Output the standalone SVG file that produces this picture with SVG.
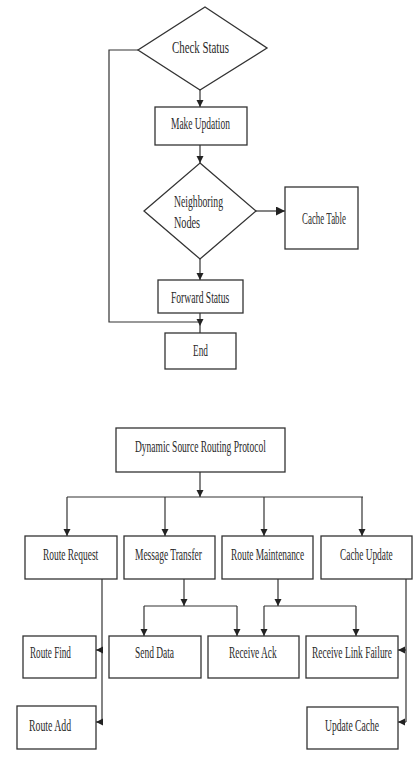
<svg xmlns="http://www.w3.org/2000/svg" width="417" height="767" viewBox="0 0 417 767">
<defs>
<marker id="ah" markerUnits="userSpaceOnUse" markerWidth="8" markerHeight="8" refX="7" refY="3.5" orient="auto"><path d="M0,0 L7,3.5 L0,7 z" fill="#222"/></marker>
<marker id="ahb" markerUnits="userSpaceOnUse" markerWidth="10" markerHeight="10" refX="9" refY="4.5" orient="auto"><path d="M0,0 L9,4.5 L0,9 z" fill="#222"/></marker>
</defs>
<style>
.n{fill:#fff;stroke:#333;stroke-width:1.3}
.t{font-family:"Liberation Serif","Times New Roman",serif;font-size:16px;fill:#2a2a2a}
.c{fill:none;stroke:#333;stroke-width:1.2}
</style>
<rect width="417" height="767" fill="#fff"/>
<g id="connectors">
<path class="c" d="M200,90 V107" marker-end="url(#ah)"/>
<path class="c" d="M200,145 V163" marker-end="url(#ah)"/>
<path class="c" d="M256,211 H285" stroke-width="2.6" marker-end="url(#ahb)"/>
<path class="c" d="M200,259 V280" marker-end="url(#ah)"/>
<path class="c" d="M200,313 V326" marker-end="url(#ah)"/>
<path class="c" d="M200,326 V333"/>
<path class="c" d="M138,50 H109 V322 H200"/>
<path class="c" d="M200,472 V497" marker-end="url(#ah)"/>
<path class="c" d="M67,497 H363"/>
<path class="c" d="M67,497 V536" marker-end="url(#ah)"/>
<path class="c" d="M165,497 V536" marker-end="url(#ah)"/>
<path class="c" d="M264,497 V536" marker-end="url(#ah)"/>
<path class="c" d="M362,497 V536" marker-end="url(#ah)"/>
<path class="c" d="M184,579 V606" marker-end="url(#ah)"/>
<path class="c" d="M144,606 H237"/>
<path class="c" d="M144,606 V636" marker-end="url(#ah)"/>
<path class="c" d="M237,606 V636" marker-end="url(#ah)"/>
<path class="c" d="M278,579 V606" marker-end="url(#ah)"/>
<path class="c" d="M264,606 H356"/>
<path class="c" d="M264,606 V636" marker-end="url(#ah)"/>
<path class="c" d="M356,606 V636" marker-end="url(#ah)"/>
<path class="c" d="M102,579 V722"/>
<path class="c" d="M102,650 H96" marker-end="url(#ah)"/>
<path class="c" d="M102,722 H96" marker-end="url(#ah)"/>
<path class="c" d="M406,579 V722"/>
<path class="c" d="M406,650 H398" marker-end="url(#ah)"/>
<path class="c" d="M406,722 H398" marker-end="url(#ah)"/>
</g>
<g id="check-status"><polygon class="n" points="205,7 267,48 200,90 138,50"/><text class="t" transform="translate(172,53) scale(0.62,1)" textLength="92" lengthAdjust="spacingAndGlyphs">Check Status</text></g>
<g id="make-updation"><rect class="n" x="155" y="107" width="92" height="38"/><text class="t" transform="translate(171,129) scale(0.62,1)" textLength="95" lengthAdjust="spacingAndGlyphs">Make Updation</text></g>
<g id="neighboring-nodes"><polygon class="n" points="200,163 256,211 200,259 144,211"/><text class="t" transform="translate(174,207) scale(0.62,1)" textLength="79" lengthAdjust="spacingAndGlyphs">Neighboring</text><text class="t" transform="translate(174,228) scale(0.62,1)" textLength="42" lengthAdjust="spacingAndGlyphs">Nodes</text></g>
<g id="cache-table"><rect class="n" x="285" y="187" width="73" height="62"/><text class="t" transform="translate(302,224) scale(0.62,1)" textLength="71" lengthAdjust="spacingAndGlyphs">Cache Table</text></g>
<g id="forward-status"><rect class="n" x="158" y="280" width="85" height="33"/><text class="t" transform="translate(171,303) scale(0.62,1)" textLength="94" lengthAdjust="spacingAndGlyphs">Forward Status</text></g>
<g id="end"><rect class="n" x="165" y="333" width="71" height="36"/><text class="t" transform="translate(193,356) scale(0.62,1)" textLength="24" lengthAdjust="spacingAndGlyphs">End</text></g>
<g id="dsr"><rect class="n" x="116" y="428" width="169" height="44"/><text class="t" transform="translate(135,452) scale(0.62,1)" textLength="211" lengthAdjust="spacingAndGlyphs">Dynamic Source Routing Protocol</text></g>
<g id="route-request"><rect class="n" x="25" y="536" width="92" height="43"/><text class="t" transform="translate(43,560) scale(0.62,1)" textLength="89" lengthAdjust="spacingAndGlyphs">Route Request</text></g>
<g id="message-transfer"><rect class="n" x="124" y="536" width="91" height="43"/><text class="t" transform="translate(135,560) scale(0.62,1)" textLength="108" lengthAdjust="spacingAndGlyphs">Message Transfer</text></g>
<g id="route-maintenance"><rect class="n" x="222" y="536" width="91" height="43"/><text class="t" transform="translate(231,560) scale(0.62,1)" textLength="118" lengthAdjust="spacingAndGlyphs">Route Maintenance</text></g>
<g id="cache-update"><rect class="n" x="321" y="536" width="91" height="43"/><text class="t" transform="translate(340,560) scale(0.62,1)" textLength="85" lengthAdjust="spacingAndGlyphs">Cache Update</text></g>
<g id="route-find"><rect class="n" x="23" y="636" width="73" height="42"/><text class="t" transform="translate(30,658) scale(0.62,1)" textLength="66" lengthAdjust="spacingAndGlyphs">Route Find</text></g>
<g id="send-data"><rect class="n" x="109" y="636" width="92" height="42"/><text class="t" transform="translate(135,658) scale(0.62,1)" textLength="63" lengthAdjust="spacingAndGlyphs">Send Data</text></g>
<g id="receive-ack"><rect class="n" x="208" y="636" width="91" height="42"/><text class="t" transform="translate(229,658) scale(0.62,1)" textLength="77" lengthAdjust="spacingAndGlyphs">Receive Ack</text></g>
<g id="receive-link-failure"><rect class="n" x="306" y="636" width="92" height="42"/><text class="t" transform="translate(312,658) scale(0.62,1)" textLength="129" lengthAdjust="spacingAndGlyphs">Receive Link Failure</text></g>
<g id="route-add"><rect class="n" x="17" y="706" width="79" height="43"/><text class="t" transform="translate(29,731) scale(0.62,1)" textLength="68" lengthAdjust="spacingAndGlyphs">Route Add</text></g>
<g id="update-cache"><rect class="n" x="307" y="707" width="91" height="42"/><text class="t" transform="translate(325,731) scale(0.62,1)" textLength="87" lengthAdjust="spacingAndGlyphs">Update Cache</text></g>
</svg>
